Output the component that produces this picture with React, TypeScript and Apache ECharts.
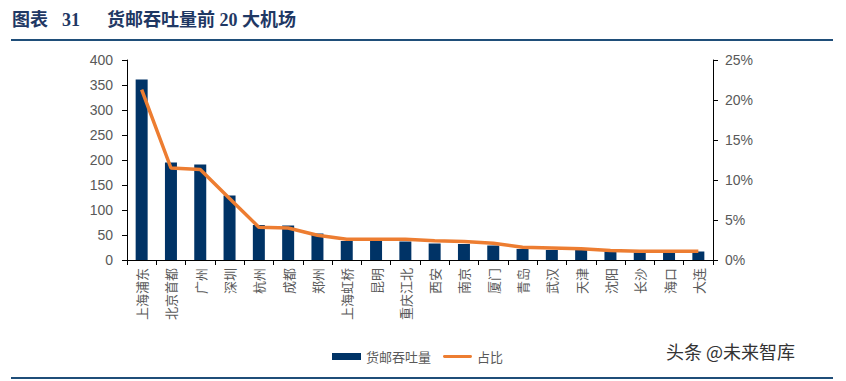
import React, { useEffect, useRef } from "react";
import * as echarts from "echarts";

const categories = ["上海浦东", "北京首都", "广州", "深圳", "杭州", "成都", "郑州", "上海虹桥", "昆明", "重庆江北", "西安", "南京", "厦门", "青岛", "武汉", "天津", "沈阳", "长沙", "海口", "大连"];
const volume = [361, 195, 191, 129, 70, 69, 53, 38, 38, 37, 33, 32, 29, 22, 20, 20, 17, 15, 15, 17];
const share = [21.3, 11.5, 11.3, 7.7, 4.1, 4.0, 3.1, 2.6, 2.6, 2.6, 2.4, 2.3, 2.1, 1.6, 1.5, 1.4, 1.2, 1.1, 1.1, 1.1];
const seriesNames = ["货邮吞吐量", "占比"];
const titleHead = "图表";
const titleNum = "31";
const subtitleText = "货邮吞吐量前 20 大机场";
const watermark = "头条 @未来智库";

export default function App() {
  const ref = useRef<HTMLDivElement>(null);
  useEffect(() => {
    if (!ref.current) return;
    const chart = echarts.init(ref.current, null, { renderer: "svg" });
    const gray = "#595959";
    const titleStyle = {
      fontSize: 18,
      fontWeight: "bold",
      fill: "#1F3864",
      fontFamily: "Liberation Serif, Noto Sans CJK SC",
    };
    chart.setOption({
      animation: false,
      backgroundColor: "#fff",
      textStyle: { fontFamily: "Liberation Sans, Noto Sans CJK SC, sans-serif" },
      grid: { left: 127, right: 133, top: 60, bottom: 121 },
      legend: {
        left: 327,
        top: 345,
        itemGap: 12,
        textStyle: { color: gray, fontSize: 13, fontFamily: "Noto Sans CJK SC" },
        data: [
          { name: seriesNames[0], icon: "rect", itemStyle: { color: "#003366" } },
          { name: seriesNames[1], icon: "path://M1.5,0 L28.5,0 A1.5,1.5 0 0 1 28.5,3 L1.5,3 A1.5,1.5 0 0 1 1.5,0 Z", itemStyle: { color: "#ED7D31" } },
        ],
        itemWidth: 29,
        itemHeight: 7,
      },
      xAxis: {
        type: "category",
        data: categories,
        axisLine: { lineStyle: { color: "#000", width: 1 } },
        axisTick: { show: true, length: 5, lineStyle: { color: "#000" } },
        axisLabel: {
          rotate: 90,
          interval: 0,
          color: gray,
          fontSize: 13,
          margin: 8,
          fontFamily: "Noto Sans CJK SC",
        },
      },
      yAxis: [
        {
          type: "value",
          min: 0,
          max: 400,
          interval: 50,
          splitLine: { show: false },
          axisLine: { show: true, lineStyle: { color: "#000" } },
          axisTick: { show: true, length: 5, lineStyle: { color: "#000" } },
          axisLabel: { color: gray, fontSize: 14, margin: 14 },
        },
        {
          type: "value",
          min: 0,
          max: 25,
          interval: 5,
          splitLine: { show: false },
          axisLine: { show: true, lineStyle: { color: "#000" } },
          axisTick: { show: true, length: 5, lineStyle: { color: "#000" } },
          axisLabel: { color: gray, fontSize: 14, margin: 12, formatter: "{value}%" },
        },
      ],
      series: [
        {
          name: seriesNames[0],
          type: "bar",
          data: volume,
          barWidth: 12,
          itemStyle: { color: "#003366" },
        },
        {
          name: seriesNames[1],
          type: "line",
          yAxisIndex: 1,
          data: share,
          symbol: "none",
          lineStyle: { color: "#ED7D31", width: 3.5 },
          itemStyle: { color: "#ED7D31" },
        },
      ],
      graphic: [
        { type: "text", left: 12, top: 11, style: { text: titleHead, ...titleStyle } },
        { type: "text", left: 62, top: 11, style: { text: titleNum, ...titleStyle } },
        { type: "text", left: 107, top: 11, style: { text: subtitleText, ...titleStyle } },
        {
          type: "rect",
          shape: { x: 11, y: 39, width: 822, height: 2 },
          style: { fill: "#1F4E79" },
        },
        {
          type: "rect",
          shape: { x: 11, y: 377, width: 822, height: 2 },
          style: { fill: "#1F4E79" },
        },
        {
          type: "text",
          left: 666,
          top: 342,
          style: {
            text: watermark,
            fontSize: 18,
            fill: "#333",
            fontFamily: "Noto Sans CJK SC",
          },
        },
      ],
    });
    return () => chart.dispose();
  }, []);
  return <div ref={ref} style={{ position: "fixed", left: 0, top: 0, width: 846, height: 381 }} />;
}
